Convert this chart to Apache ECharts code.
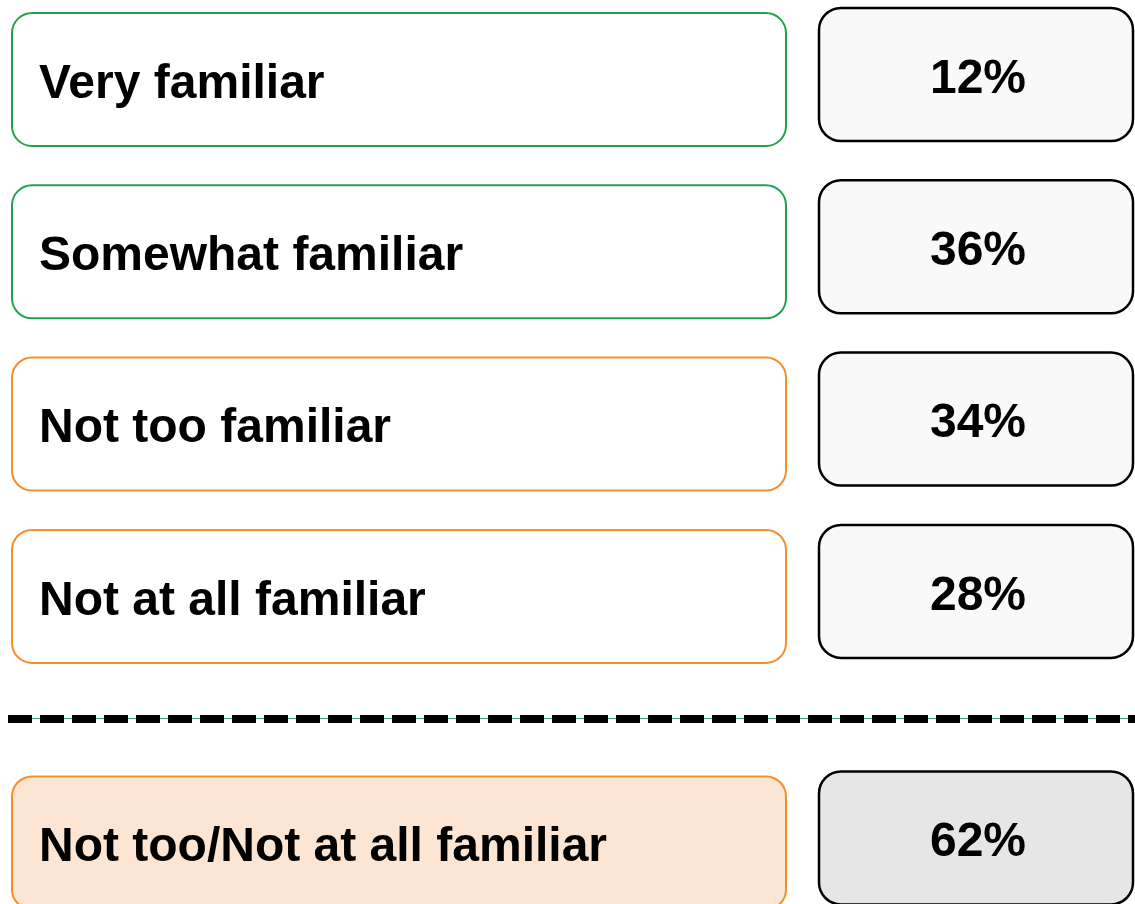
<!DOCTYPE html>
<html>
<head>
<meta charset="utf-8">
<script src="https://cdn.jsdelivr.net/npm/echarts@6/dist/echarts.min.js"></script>
<style>html,body{margin:0;padding:0;background:#fff}#c{width:1135px;height:904px}</style>
</head>
<body>
<div id="c"></div>
<script>
// ---- data ----
const categories = ['Very familiar', 'Somewhat familiar', 'Not too familiar', 'Not at all familiar'];
const values = [12, 36, 34, 28];
const groups = ['familiar', 'familiar', 'unfamiliar', 'unfamiliar'];
const netLabel = 'Not too/Not at all familiar';
const netValue = 62;

// ---- layout / style constants ----
const NET_POS = 4.431;      // row slot of the net box
const SEP_POS = 3.723;      // row slot of the dashed separator
const COLORS = { familiar: '#22a152', unfamiliar: '#f58f2c' };
const FONT = 'bold 48px "Liberation Sans", Arial, sans-serif';

const rows = categories.map((c, i) => [0, i, i]);
rows.push([0, NET_POS, -1]);

const chart = echarts.init(document.getElementById('c'), null, { renderer: 'canvas' });

function renderItem(params, api) {
  const idx = api.value(2);
  const yc = api.coord([0, api.value(1)])[1];
  const isNet = idx < 0;
  const label = isNet ? netLabel : categories[idx];
  const val = isNet ? netValue : values[idx];
  const border = isNet ? COLORS.unfamiliar : COLORS[groups[idx]];
  const H = 133;
  const ly = yc + 2 - H / 2;
  const vy = yc - 3 - H / 2;
  return {
    type: 'group',
    children: [
      { type: 'rect', shape: { x: 12, y: ly, width: 774, height: H, r: 20 },
        style: { fill: isNet ? '#fde5d3' : '#ffffff', stroke: border, lineWidth: 2 } },
      { type: 'text', style: { text: label, x: 39, y: ly + H / 2 + 5, font: FONT, fill: '#000',
          align: 'left', textAlign: 'left', verticalAlign: 'middle', textVerticalAlign: 'middle' } },
      { type: 'rect', shape: { x: 819, y: vy, width: 314, height: H, r: 22 },
        style: { fill: isNet ? '#e6e6e6' : '#f9f9f9', stroke: '#000', lineWidth: 2.5 } },
      { type: 'text', style: { text: val + '%', x: 978, y: vy + H / 2 + 5, font: FONT, fill: '#000',
          align: 'center', textAlign: 'center', verticalAlign: 'middle', textVerticalAlign: 'middle' } }
    ]
  };
}

chart.setOption({
  animation: false,
  grid: { left: 8, right: 0, top: 0, bottom: 0 },
  xAxis: { type: 'value', min: 0, max: 1, show: false },
  yAxis: { type: 'value', inverse: true, min: -0.4498, max: 4.797, show: false },
  series: [{
    type: 'custom',
    renderItem: renderItem,
    encode: { x: 0, y: 1 },
    data: rows,
    silent: true,
    markLine: {
      silent: true,
      symbol: 'none',
      label: { show: false },
      data: [
        { yAxis: SEP_POS, lineStyle: { color: '#3aa66a', width: 1, type: 'solid' } },
        { yAxis: SEP_POS, lineStyle: { color: '#000', width: 8, type: [24, 8] } }
      ]
    }
  }]
});
</script>
</body>
</html>
